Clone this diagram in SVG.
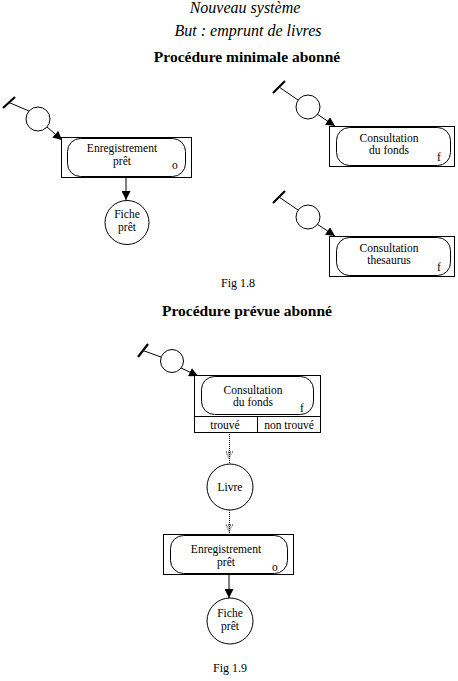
<svg xmlns="http://www.w3.org/2000/svg" width="458" height="681" viewBox="0 0 458 681">
<defs>
<style>
text{font-family:"Liberation Serif","Times New Roman",serif;fill:#000}
.t{font-size:11.5px;text-anchor:middle}
.s{font-size:11.5px}
.h{font-size:16px;font-style:italic;text-anchor:middle}
.b{font-size:15.5px;font-weight:bold;text-anchor:middle}
.ln{stroke:#000;stroke-width:1;fill:none}
.bar{stroke:#000;stroke-width:2.2;fill:none}
.dot{stroke:#000;stroke-width:1;stroke-dasharray:1 1;fill:none}
.box{fill:#fff;stroke:#000;stroke-width:1}
.c{fill:#fff;stroke:#000;stroke-width:1}
</style>
<marker id="ah" viewBox="0 0 10 10" refX="10" refY="5" markerWidth="9" markerHeight="9" markerUnits="userSpaceOnUse" orient="auto">
<path d="M0,0 L10,5 L0,10 z" fill="#000"/>
</marker>
</defs>
<rect width="458" height="681" fill="#fff"/>
<text class="h" x="245" y="13">Nouveau système</text>
<text class="h" x="248" y="36">But : emprunt de livres</text>
<text class="b" x="247" y="62">Procédure minimale abonné</text>
<g id="connectors">
<line class="bar" x1="3" y1="108" x2="15" y2="97"/>
<line class="ln" x1="9" y1="102.5" x2="29" y2="111"/>
<line class="ln" x1="47" y1="127" x2="62" y2="140" marker-end="url(#ah)"/>
<line class="ln" x1="126" y1="177" x2="126" y2="200" marker-end="url(#ah)"/>
<line class="bar" x1="273" y1="93" x2="285" y2="81"/>
<line class="ln" x1="279" y1="87" x2="298" y2="100"/>
<line class="ln" x1="317" y1="114" x2="335" y2="126" marker-end="url(#ah)"/>
<line class="bar" x1="273" y1="203" x2="285" y2="191"/>
<line class="ln" x1="279" y1="197" x2="298" y2="210"/>
<line class="ln" x1="317" y1="224" x2="335" y2="236" marker-end="url(#ah)"/>
<line class="bar" x1="138" y1="357" x2="148" y2="344"/>
<line class="ln" x1="143" y1="350.5" x2="161" y2="357"/>
<line class="ln" x1="181" y1="368" x2="198" y2="376" marker-end="url(#ah)"/>
<line class="dot" x1="229.5" y1="432" x2="229.5" y2="464"/>
<path class="ln" d="M226,452 H233 M226.5,454 H232.5 M227.5,456 H231.5 M228.5,458 H230.5" stroke-dasharray="1 1"/>
<line class="dot" x1="229.5" y1="510" x2="229.5" y2="534"/>
<path class="ln" d="M226,525 H233 M226.5,527 H232.5 M227.5,529 H231.5 M228.5,531 H230.5" stroke-dasharray="1 1"/>
<line class="ln" x1="229" y1="574" x2="229" y2="598" marker-end="url(#ah)"/>
</g>
<g id="n-start1"><circle class="c" cx="38" cy="119" r="12"/></g>
<g id="n-enreg1">
<rect class="box" x="61.5" y="137.5" width="130" height="40"/>
<rect class="ln" x="67.5" y="138.5" width="118" height="38" rx="13" ry="13"/>
<text class="t" x="122" y="152">Enregistrement</text>
<text class="t" x="122" y="165">prêt</text>
<text class="s" x="172" y="169">o</text>
</g>
<g id="n-fiche1">
<circle class="c" cx="127" cy="222.5" r="22"/>
<text class="t" x="127" y="218">Fiche</text>
<text class="t" x="127" y="231">prêt</text>
</g>
<g id="n-start2"><circle class="c" cx="308" cy="107" r="12"/></g>
<g id="n-consult1">
<rect class="box" x="329.5" y="126.5" width="125" height="40"/>
<rect class="ln" x="336.5" y="127.5" width="114" height="38" rx="13" ry="13"/>
<text class="t" x="389" y="142">Consultation</text>
<text class="t" x="389" y="154">du fonds</text>
<text class="s" x="437" y="161">f</text>
</g>
<g id="n-start3"><circle class="c" cx="308" cy="217" r="12"/></g>
<g id="n-thes">
<rect class="box" x="329.5" y="236.5" width="125" height="40"/>
<rect class="ln" x="336.5" y="237.5" width="114" height="38" rx="13" ry="13"/>
<text class="t" x="389" y="252">Consultation</text>
<text class="t" x="389" y="264">thesaurus</text>
<text class="s" x="437" y="271">f</text>
</g>
<text class="t" x="238" y="287" style="font-size:12px">Fig 1.8</text>
<text class="b" x="247" y="316">Procédure prévue abonné</text>
<g id="n-start4"><circle class="c" cx="172" cy="361" r="11.5"/></g>
<g id="n-consult2">
<rect class="box" x="194.5" y="375.5" width="126" height="57"/>
<rect class="ln" x="201.5" y="376.5" width="112" height="38" rx="13" ry="13"/>
<line class="ln" x1="194.5" y1="416.5" x2="320.5" y2="416.5"/>
<line class="ln" x1="257.5" y1="416.5" x2="257.5" y2="432.5"/>
<text class="t" x="253" y="394">Consultation</text>
<text class="t" x="253" y="406">du fonds</text>
<text class="s" x="300" y="412">f</text>
<text class="t" x="225" y="429">trouvé</text>
<text class="t" x="289" y="429">non trouvé</text>
</g>
<g id="n-livre">
<circle class="c" cx="230" cy="487" r="23"/>
<text class="t" x="230" y="491">Livre</text>
</g>
<g id="n-enreg2">
<rect class="box" x="163.5" y="534.5" width="130" height="40"/>
<rect class="ln" x="170.5" y="535.5" width="117" height="38" rx="13" ry="13"/>
<text class="t" x="226" y="553">Enregistrement</text>
<text class="t" x="226" y="566">prêt</text>
<text class="s" x="272" y="571">o</text>
</g>
<g id="n-fiche2">
<circle class="c" cx="230" cy="621" r="23"/>
<text class="t" x="230" y="617">Fiche</text>
<text class="t" x="230" y="630">prêt</text>
</g>
<text class="t" x="230" y="672" style="font-size:12px">Fig 1.9</text>
</svg>
